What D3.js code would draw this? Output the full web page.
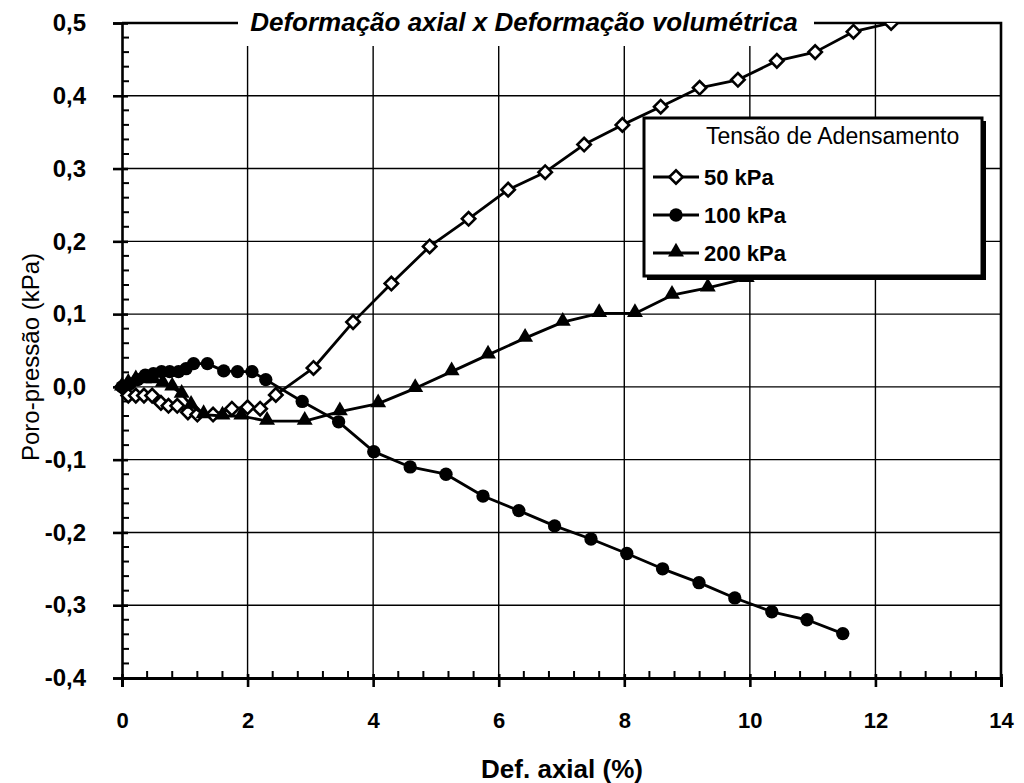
<!DOCTYPE html>
<html>
<head>
<meta charset="utf-8">
<script src="https://cdn.jsdelivr.net/npm/d3@7"></script>
<style>
  html, body { margin: 0; padding: 0; background: #fff; }
  svg { display: block; }
  text { font-family: "Liberation Sans", Arial, sans-serif; fill: #000; }
</style>
</head>
<body>
<svg id="chart" width="1024" height="783"></svg>
<script>
// Def. axial (%) and poro-pressão (kPa) for each consolidation stress
const xDomain = [0, 14];
const yDomain = [-0.4, 0.5];
const xTicks = [0, 2, 4, 6, 8, 10, 12, 14];
const yTicks = [-0.4, -0.3, -0.2, -0.1, 0.0, 0.1, 0.2, 0.3, 0.4, 0.5];

const axial50 = [0.0, 0.1, 0.22, 0.35, 0.48, 0.62, 0.74, 0.88, 1.05, 1.2, 1.45, 1.75, 2.0, 2.2, 2.45, 3.05, 3.68, 4.29, 4.9, 5.52, 6.15, 6.74, 7.36, 7.97, 8.58, 9.2, 9.81, 10.43, 11.04, 11.65, 12.25];
const pore50  = [0.0, -0.012, -0.012, -0.012, -0.012, -0.022, -0.026, -0.026, -0.035, -0.038, -0.038, -0.03, -0.028, -0.03, -0.011, 0.026, 0.089, 0.142, 0.193, 0.231, 0.271, 0.295, 0.333, 0.36, 0.385, 0.411, 0.422, 0.448, 0.46, 0.488, 0.5];

const axial100 = [0.0, 0.12, 0.25, 0.37, 0.5, 0.63, 0.76, 0.9, 1.02, 1.14, 1.36, 1.62, 1.84, 2.07, 2.29, 2.87, 3.45, 4.01, 4.59, 5.16, 5.75, 6.32, 6.89, 7.47, 8.04, 8.61, 9.19, 9.76, 10.35, 10.91, 11.48];
const pore100  = [0.0, 0.004, 0.01, 0.016, 0.018, 0.021, 0.021, 0.021, 0.025, 0.032, 0.032, 0.022, 0.021, 0.021, 0.01, -0.02, -0.048, -0.089, -0.11, -0.12, -0.15, -0.17, -0.191, -0.209, -0.229, -0.25, -0.269, -0.29, -0.309, -0.32, -0.339];

const axial200 = [0.0, 0.1, 0.22, 0.35, 0.5, 0.65, 0.8, 0.95, 1.1, 1.3, 1.6, 1.9, 2.31, 2.91, 3.47, 4.08, 4.67, 5.25, 5.83, 6.42, 7.02, 7.6, 8.17, 8.76, 9.33, 9.95];
const pore200  = [0.0, 0.005, 0.01, 0.01, 0.01, 0.005, 0.0, -0.01, -0.025, -0.038, -0.04, -0.04, -0.047, -0.047, -0.034, -0.023, -0.002, 0.021, 0.044, 0.067, 0.089, 0.101, 0.101, 0.126, 0.136, 0.149];

const seriesNames = ["50 kPa", "100 kPa", "200 kPa"];
const legendTitle = "Tensão de Adensamento";
const chartTitle = "Deformação axial x Deformação volumétrica";
const xTitle = "Def. axial (%)";
const yTitle = "Poro-pressão (kPa)";

const series = [
  { name: seriesNames[0], xs: axial50,  ys: pore50,  marker: "diamond" },
  { name: seriesNames[1], xs: axial100, ys: pore100, marker: "circle" },
  { name: seriesNames[2], xs: axial200, ys: pore200, marker: "triangle" }
];

const svg = d3.select("#chart");
const plotLeft = 122, plotRight = 1001, plotTop = 23, plotBottom = 678;

const x = d3.scaleLinear().domain(xDomain).range([plotLeft, plotRight]);
const y = d3.scaleLinear().domain(yDomain).range([plotBottom, plotTop]);

const ptBR = d3.formatLocale({ decimal: ",", thousands: ".", grouping: [3], currency: ["", ""], minus: "-" });
const fmtY = ptBR.format(".1f");

// grid lines
const grid = svg.append("g");
grid.selectAll("line.v").data(xTicks.filter(t => t > 0 && t < 14)).join("line")
  .attr("x1", d => x(d)).attr("x2", d => x(d))
  .attr("y1", plotTop).attr("y2", plotBottom)
  .attr("stroke", "#000").attr("stroke-width", 1.4);
grid.selectAll("line.h").data(yTicks.filter(t => t > -0.4 && t < 0.5)).join("line")
  .attr("x1", plotLeft).attr("x2", plotRight)
  .attr("y1", d => y(d)).attr("y2", d => y(d))
  .attr("stroke", "#000").attr("stroke-width", 1.4);

// top and right frame
svg.append("path")
  .attr("d", `M${plotLeft},${plotTop}H${plotRight}V${plotBottom}`)
  .attr("fill", "none").attr("stroke", "#000").attr("stroke-width", 2.6);

// minor ticks (inside)
const minorX = d3.range(0, 14.001, 0.4).filter(v => Math.abs(v / 2 - Math.round(v / 2)) > 1e-6);
svg.append("g").selectAll("line").data(minorX).join("line")
  .attr("x1", d => x(d)).attr("x2", d => x(d))
  .attr("y1", plotBottom).attr("y2", plotBottom - 7)
  .attr("stroke", "#000").attr("stroke-width", 2);
const minorY = d3.range(-0.4, 0.5001, 0.02).filter(v => Math.abs(v * 10 - Math.round(v * 10)) > 1e-6);
svg.append("g").selectAll("line").data(minorY).join("line")
  .attr("x1", plotLeft).attr("x2", plotLeft + 7)
  .attr("y1", d => y(d)).attr("y2", d => y(d))
  .attr("stroke", "#000").attr("stroke-width", 2);

// axes
const xAxis = svg.append("g").attr("transform", `translate(0,${plotBottom})`)
  .call(d3.axisBottom(x).tickValues(xTicks).tickSize(9).tickPadding(25).tickFormat(d3.format("d")));
xAxis.select(".domain").attr("stroke-width", 3);
xAxis.selectAll(".tick line").attr("stroke-width", 2.6).attr("y1", -4);
xAxis.selectAll(".tick text")
  .style("font-size", "22px").style("font-weight", "bold");

const yAxis = svg.append("g").attr("transform", `translate(${plotLeft},0)`)
  .call(d3.axisLeft(y).tickValues(yTicks).tickSize(9).tickPadding(27).tickFormat(fmtY));
yAxis.select(".domain").attr("stroke-width", 2.6);
yAxis.selectAll(".tick line").attr("stroke-width", 2.6).attr("x1", 6);
yAxis.selectAll(".tick text")
  .style("font-size", "24px").style("font-weight", "bold");
svg.selectAll(".domain").attr("stroke", "#000");
svg.selectAll(".tick line").attr("stroke", "#000");
svg.selectAll(".tick text").attr("fill", "#000");

// title box covering the upper frame
svg.append("rect").attr("x", 238).attr("y", 0).attr("width", 576).attr("height", 46).attr("fill", "#fff");
svg.append("text").attr("x", 524).attr("y", 31)
  .attr("text-anchor", "middle")
  .style("font-size", "26px").style("font-weight", "bold").style("font-style", "italic")
  .text(chartTitle);

// axis titles
svg.append("text")
  .attr("x", 562).attr("y", 778).attr("text-anchor", "middle")
  .style("font-size", "26px").style("font-weight", "bold")
  .text(xTitle);
svg.append("text")
  .attr("transform", "translate(39,357) rotate(-90)")
  .attr("text-anchor", "middle")
  .style("font-size", "24px")
  .text(yTitle);

// markers
const symbolFor = {
  diamond: d3.symbol().type(d3.symbolSquare).size(90),
  circle: d3.symbol().type(d3.symbolCircle).size(140),
  triangle: d3.symbol().type(d3.symbolTriangle).size(110)
};
function drawMarker(g, kind, cx, cy) {
  const p = g.append("path").attr("d", symbolFor[kind]());
  if (kind === "diamond") {
    p.attr("transform", `translate(${cx},${cy}) rotate(45)`)
      .attr("fill", "#fff").attr("stroke", "#000").attr("stroke-width", 2.6);
  } else if (kind === "triangle") {
    p.attr("transform", `translate(${cx},${cy - 1})`).attr("fill", "#000");
  } else {
    p.attr("transform", `translate(${cx},${cy})`).attr("fill", "#000");
  }
}

svg.append("clipPath").attr("id", "plotClip")
  .append("rect").attr("x", plotLeft - 20).attr("y", plotTop).attr("width", plotRight - plotLeft + 20).attr("height", plotBottom - plotTop + 20);

const plot = svg.append("g").attr("clip-path", "url(#plotClip)");
const line = d3.line().x(d => x(d[0])).y(d => y(d[1]));

series.forEach(s => {
  const pts = s.xs.map((v, i) => [v, s.ys[i]]);
  const g = plot.append("g");
  g.append("path").datum(pts).attr("d", line)
    .attr("fill", "none").attr("stroke", "#000").attr("stroke-width", 2.8).attr("stroke-linejoin", "round");
  pts.forEach(p => drawMarker(g, s.marker, x(p[0]), y(p[1])));
});

// legend
const lg = svg.append("g");
lg.append("rect").attr("x", 647).attr("y", 121).attr("width", 339).attr("height", 159).attr("fill", "#000");
lg.append("rect").attr("x", 644).attr("y", 118).attr("width", 338).attr("height", 158)
  .attr("fill", "#fff").attr("stroke", "#000").attr("stroke-width", 3);
lg.append("text").attr("x", 706).attr("y", 144)
  .style("font-size", "23px").text(legendTitle);
series.forEach((s, i) => {
  const cy = 177 + i * 38;
  lg.append("line").attr("x1", 653).attr("x2", 699).attr("y1", cy).attr("y2", cy)
    .attr("stroke", "#000").attr("stroke-width", 2.8);
  drawMarker(lg, s.marker, 676, cy);
  lg.append("text").attr("x", 704).attr("y", cy + 8)
    .style("font-size", "22px").style("font-weight", "bold").text(s.name);
});
</script>
</body>
</html>
